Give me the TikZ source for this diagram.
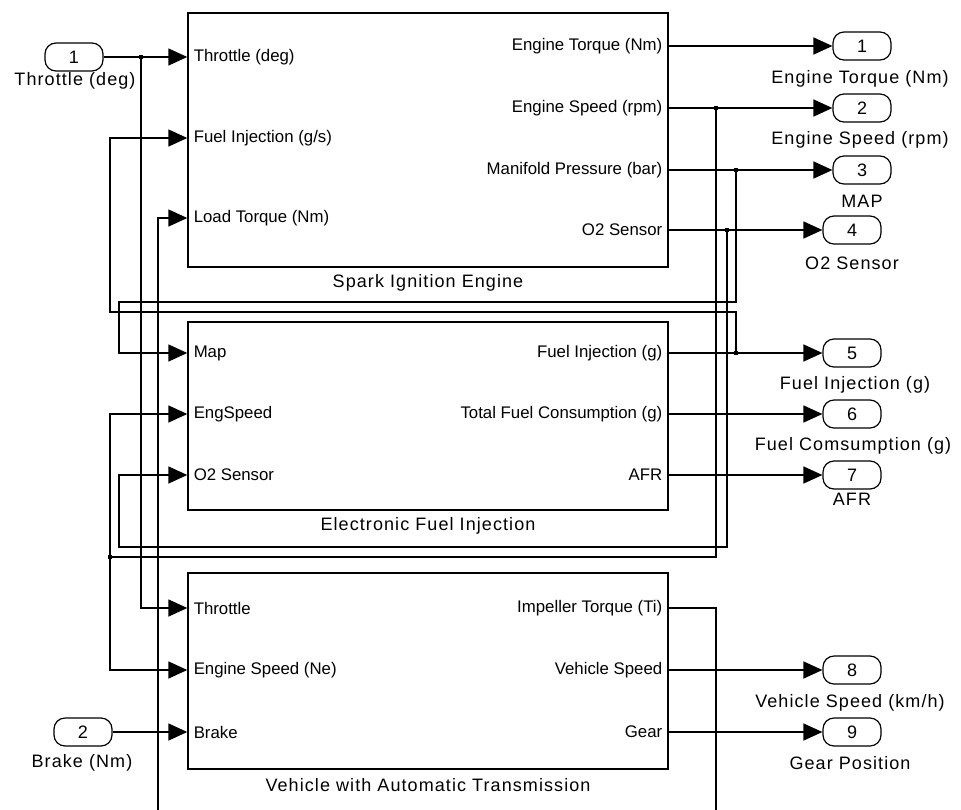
\documentclass[tikz,border=0pt]{standalone}
\usepackage{fontspec}
\setmainfont{Liberation Sans}
\newfontfamily\spacedfont[LetterSpace=6]{Liberation Sans}
\usetikzlibrary{positioning, arrows.meta, calc}

\begin{document}
\begin{tikzpicture}[x=1pt, y=-1pt, line width=1.5pt,
  font=\fontsize{16.8}{18}\selectfont,
  block/.style={draw, line width=1.4pt, minimum width=480pt, inner sep=0pt},
  portbox/.style={draw, rounded corners=11pt, line width=1.2pt, minimum width=58pt, minimum height=28pt, inner sep=0pt, font=\fontsize{18}{20}\selectfont},
  lbl/.style={inner sep=0pt, font=\spacedfont\fontsize{18}{20}\selectfont},
  pin/.style={anchor=west, inner sep=0pt},
  pout/.style={anchor=east, inner sep=0pt},
  wire/.style={-{Triangle[length=19pt,width=17pt]}},
  junc/.style={fill, inner sep=0pt, minimum size=4.5pt}
]
\fill[white] (0,0) rectangle (961,809);
\useasboundingbox (0,0) rectangle (961,809);

% subsystems
\node[block, minimum height=254pt] (sie) at (428,140) {};
\node[block, minimum height=188pt] (efi) at (428,416) {};
\node[block, minimum height=196pt] (veh) at (428,671) {};
\node[lbl] at (428,283) {Spark Ignition Engine};
\node[lbl] at (428,526) {Electronic Fuel Injection};
\node[lbl] at (428,785) {Vehicle with Automatic Transmission};

% port labels
\node[pin] (sie-thr) at (193,57) {Throttle (deg)};
\node[pin] (sie-fi) at (193,138) {Fuel Injection (g/s)};
\node[pin] (sie-lt) at (193,218) {Load Torque (Nm)};
\node[pout] (sie-tq) at (663,46) {Engine Torque (Nm)};
\node[pout] (sie-spd) at (663,108) {Engine Speed (rpm)};
\node[pout] (sie-map) at (663,170) {Manifold Pressure (bar)};
\node[pout] (sie-o2) at (663,230) {O2 Sensor};

\node[pin] (efi-map) at (193,353) {Map};
\node[pin] (efi-spd) at (193,414) {EngSpeed};
\node[pin] (efi-o2) at (193,475) {O2 Sensor};
\node[pout] (efi-fi) at (663,353) {Fuel Injection (g)};
\node[pout] (efi-fc) at (663,414) {Total Fuel Consumption (g)};
\node[pout] (efi-afr) at (663,475) {AFR};

\node[pin] (veh-thr) at (193,608) {Throttle};
\node[pin] (veh-spd) at (193,670) {Engine Speed (Ne)};
\node[pin] (veh-brk) at (193,732) {Brake};
\node[pout] (veh-imp) at (663,608) {Impeller Torque (Ti)};
\node[pout] (veh-vs) at (663,670) {Vehicle Speed};
\node[pout] (veh-gear) at (663,732) {Gear};

% inports
\node[portbox] (in1) at (74,57) {1};
\node[lbl] at (75,81) {Throttle (deg)};
\node[portbox] (in2) at (83,732) {2};
\node[lbl] at (82,763) {Brake (Nm)};

% outports
\node[portbox] (o1) at (862,46) {1};
\node[portbox] (o2) at (862,108) {2};
\node[portbox] (o3) at (862,170) {3};
\node[portbox] (o4) at (852,230) {4};
\node[portbox] (o5) at (852,353) {5};
\node[portbox] (o6) at (852,414) {6};
\node[portbox] (o7) at (852,475) {7};
\node[portbox] (o8) at (852,670) {8};
\node[portbox] (o9) at (852,732) {9};
\node[lbl] at (860,79) {Engine Torque (Nm)};
\node[lbl] at (860,140) {Engine Speed (rpm)};
\node[lbl] at (862,201) {MAP};
\node[lbl] at (852,263) {O2 Sensor};
\node[lbl] at (855,385) {Fuel Injection (g)};
\node[lbl] at (853,446) {Fuel Comsumption (g)};
\node[lbl] at (852,499) {AFR};
\node[lbl] at (850,703) {Vehicle Speed (km/h)};
\node[lbl] at (850,763) {Gear Position};

% branch points
\coordinate (j1) at (141,57);
\coordinate (j2) at (716,108);
\coordinate (j3) at (736,170);
\coordinate (j4) at (727,230);
\coordinate (j5) at (736,353);
\coordinate (j6) at (110,557);

% signals
\draw[wire] (in1) -- (sie.west |- sie-thr);
\draw[wire] (j1) |- (veh.west |- veh-thr);
\draw[wire] (in2) -- (veh.west |- veh-brk);

\draw[wire] (sie.east |- sie-tq) -- (o1.west);
\draw[wire] (sie.east |- sie-spd) -- (o2.west);
\draw[wire] (sie.east |- sie-map) -- (o3.west);
\draw[wire] (sie.east |- sie-o2) -- (o4.west);
\draw[wire] (efi.east |- efi-fi) -- (o5.west);
\draw[wire] (efi.east |- efi-fc) -- (o6.west);
\draw[wire] (efi.east |- efi-afr) -- (o7.west);
\draw[wire] (veh.east |- veh-vs) -- (o8.west);
\draw[wire] (veh.east |- veh-gear) -- (o9.west);

\draw[wire] (j5) |- (110,312) |- (sie.west |- sie-fi);
\draw[wire] (j3) |- (119,302) |- (efi.west |- efi-map);
\draw[wire] (j4) |- (119,547) |- (efi.west |- efi-o2);
\draw[wire] (j2) |- (j6) |- (efi.west |- efi-spd);
\draw[wire] (j6) |- (veh.west |- veh-spd);
\begin{scope}
\clip (0,0) rectangle (961,809);
\draw[wire] (veh.east |- veh-imp) -| (716,830) -- (158,830) |- (sie.west |- sie-lt);
\end{scope}

\foreach \j in {j1,j2,j3,j4,j5,j6}
  \node[junc] at (\j) {};
\end{tikzpicture}
\end{document}
